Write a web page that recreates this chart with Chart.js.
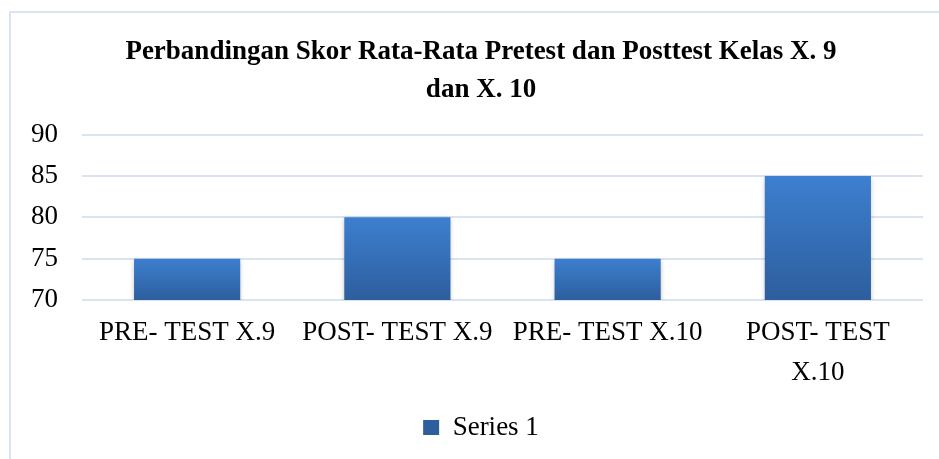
<!DOCTYPE html>
<html>
<head>
<meta charset="utf-8">
<script src="https://cdn.jsdelivr.net/npm/chart.js@4"></script>
<style>
  html, body { margin: 0; padding: 0; background: #fff; overflow: hidden; }
  #frame {
    position: absolute; left: 9px; top: 11px;
    width: 940px; height: 446px;
    border-top: 2px solid #dae3f1; border-left: 2px solid #dae3f1;
  }
  #wrap { position: relative; width: 940px; height: 446px; }
</style>
</head>
<body>
<div id="frame"><div id="wrap"><canvas id="graph"></canvas></div></div>
<script>
// dados
const categorias = ['PRE- TEST X.9', 'POST- TEST X.9', 'PRE- TEST X.10', ['POST- TEST', 'X.10']];
const skorRataRata = [75, 80, 75, 85];
const tituloLinhas = ['Perbandingan Skor Rata-Rata Pretest dan Posttest Kelas X. 9', 'dan X. 10'];
const eixoY = { min: 70, max: 90, passo: 5 };

const fonte = "'Liberation Serif', 'Times New Roman', serif";

// gradiente de cada barra, do topo da barra até a base do eixo
const corBarra = (context) => {
  const chart = context.chart;
  if (!chart.chartArea || context.raw === undefined) return '#3a78c6';
  const y = chart.scales.y;
  const topo = y.getPixelForValue(context.raw);
  const base = y.getPixelForValue(y.min);
  const g = chart.ctx.createLinearGradient(0, topo, 0, base);
  g.addColorStop(0, '#3d7fd0');
  g.addColorStop(1, '#2d5e9d');
  return g;
};

// sombra leve nas barras
const sombra = {
  id: 'sombra',
  beforeDatasetsDraw(chart) {
    const ctx = chart.ctx;
    ctx.save();
    ctx.shadowColor = 'rgba(0,0,0,0.28)';
    ctx.shadowBlur = 5;
    ctx.shadowOffsetY = 2;
  },
  afterDatasetsDraw(chart) {
    chart.ctx.restore();
  }
};

let ctx = document.getElementById('graph').getContext('2d');

let graph = new Chart(ctx, {
  type: 'bar',
  data: {
    labels: categorias,
    datasets: [{
      label: 'Series 1',
      data: skorRataRata,
      backgroundColor: corBarra,
      borderWidth: 0,
      categoryPercentage: 1,
      barPercentage: 0.505
    }]
  },
  plugins: [sombra],
  options: {
    responsive: true,
    maintainAspectRatio: false,
    animation: false,
    layout: { padding: { left: 0, right: 0, top: 0, bottom: 8 } },
    plugins: {
      title: {
        display: true,
        text: tituloLinhas,
        color: '#000',
        font: { family: fonte, size: 27, weight: 'bold', lineHeight: 1.4 },
        padding: { top: 20, bottom: 26 }
      },
      legend: {
        position: 'bottom',
        labels: {
          color: '#000',
          font: { family: fonte, size: 27 },
          boxWidth: 16,
          boxHeight: 15,
          padding: 10
        }
      },
      tooltip: { enabled: false }
    },
    scales: {
      x: {
        grid: { display: false, drawTicks: false },
        border: { display: false },
        ticks: {
          color: '#000',
          font: { family: fonte, size: 27, lineHeight: 1.48 },
          padding: 13,
          maxRotation: 0,
          autoSkip: false
        },
        afterFit: (scale) => { scale.height = 104; }
      },
      y: {
        min: eixoY.min,
        max: eixoY.max,
        grid: { color: '#dae3f1', lineWidth: 2, drawTicks: false },
        border: { display: false },
        ticks: {
          stepSize: eixoY.passo,
          color: '#000',
          font: { family: fonte, size: 27 },
          padding: 24
        },
        afterFit: (scale) => { scale.width = 71; }
      },
      // eixo vazio à direita, só para reservar a margem
      yDireita: {
        position: 'right',
        min: eixoY.min,
        max: eixoY.max,
        grid: { display: false, drawTicks: false },
        border: { display: false },
        ticks: { display: false },
        afterFit: (scale) => { scale.width = 28; }
      }
    }
  }
});
</script>
</body>
</html>
